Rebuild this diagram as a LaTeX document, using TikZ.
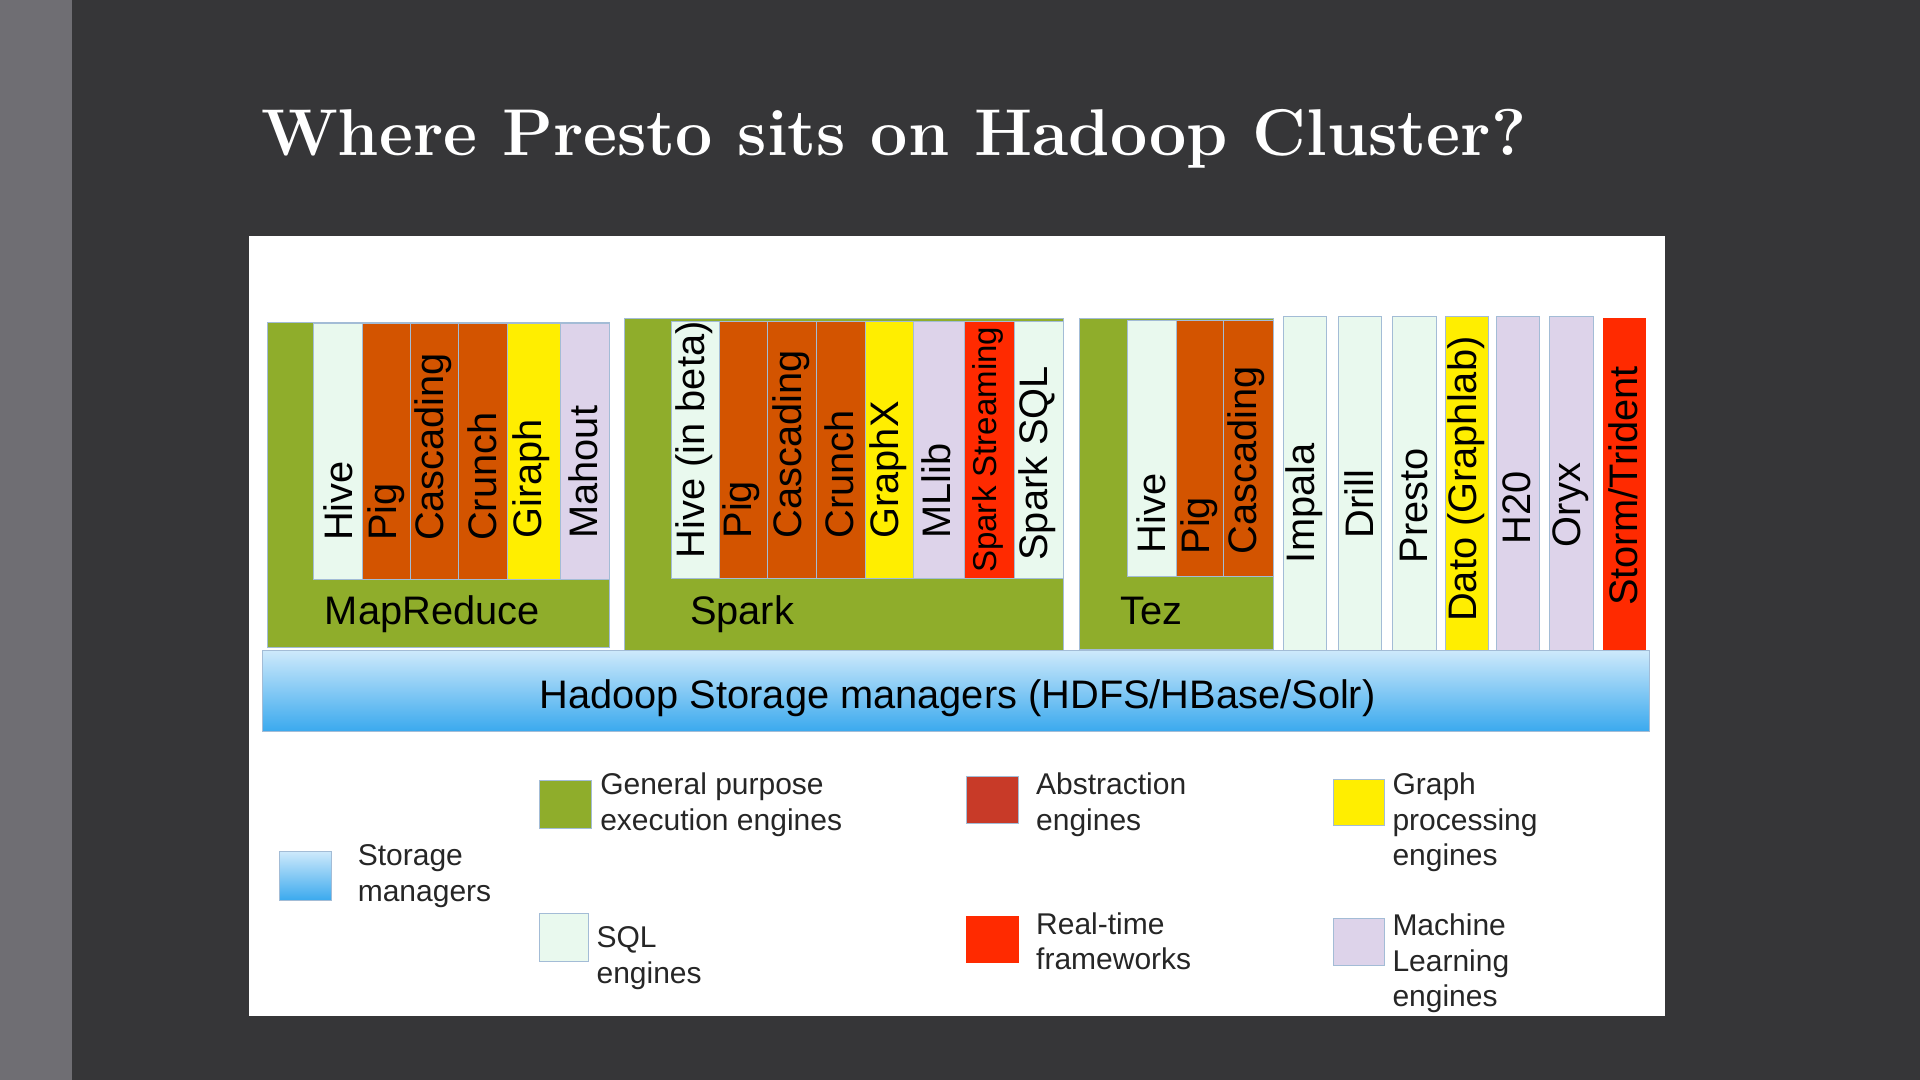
\documentclass[tikz,border=0pt]{standalone}
\usepackage{fontspec}
\usepackage{tikz}
\newfontfamily\arialfont{Liberation Sans}
\newcommand{\lblfont}{\arialfont\fontsize{32.5}{39}\selectfont}
\newcommand{\legfont}{\arialfont\fontsize{24.5}{29}\selectfont}
\newcommand{\titlefont}{\bfseries\fontsize{54}{64}\selectfont}
\definecolor{slidebg}{HTML}{363638}
\definecolor{slidestrip}{HTML}{6F6E73}
\definecolor{gen}{HTML}{8FAD2B}
\definecolor{abst}{HTML}{D35400}
\definecolor{abstkey}{HTML}{C83A28}
\definecolor{graphc}{HTML}{FFEE00}
\definecolor{mlc}{HTML}{DDD3EA}
\definecolor{sqlc}{HTML}{E9F9EE}
\definecolor{rtc}{HTML}{FF2A00}
\definecolor{sttop}{HTML}{CDE9FB}
\definecolor{stbot}{HTML}{3AA9EE}
\definecolor{barline}{HTML}{A3BCD6}

\begin{document}
\begin{tikzpicture}[x=1pt, y=-1pt,
	bar/.style={draw=barline, line width=0.8pt, inner sep=0, anchor=north west},
	vlbl/.style={rotate=90, anchor=west, inner sep=0, font=\lblfont, text=black},
	hlbl/.style={anchor=base, inner sep=0, font=\lblfont, text=black},
	key/.style={draw=barline, line width=0.8pt, inner sep=0, anchor=north west},
	keytext/.style={anchor=base west, inner sep=0, align=left, font=\legfont, text=black!85}]
	\useasboundingbox (0,0) rectangle (1568,882);
	\fill[slidebg] (0,0) rectangle (1568,882);
	\fill[slidestrip] (0,0) rectangle (59,882);
	\fill[white] (203,193) rectangle (1360,830);
	
	\node[anchor=base west, inner sep=0, font=\titlefont, text=white] (title) at (213,127) {Where Presto sits on Hadoop Cluster?};
	
	% MapReduce
	\node[bar, fill=gen, minimum width=279pt, minimum height=265pt] (mr) at (218,263) {};
	\node[bar, fill=sqlc, minimum width=40pt, minimum height=209pt] (mrhive) at (256,264) {};
	\node[bar, fill=abst, minimum width=39pt, minimum height=209pt] (mrpig) at (296,264) {};
	\node[bar, fill=abst, minimum width=39pt, minimum height=209pt] (mrcasc) at (335,264) {};
	\node[bar, fill=abst, minimum width=40pt, minimum height=209pt] (mrcrunch) at (374,264) {};
	\node[bar, fill=graphc, minimum width=43pt, minimum height=209pt] (mrgiraph) at (414,264) {};
	\node[bar, fill=mlc, minimum width=40pt, minimum height=209pt] (mrmahout) at (457,264) {};
	\node[vlbl] (mrhivet) at (276,442) {Hive};
	\node[vlbl] (mrpigt) at (315,442) {Pig};
	\node[vlbl] (mrcasct) at (354,442) {Cascading};
	\node[vlbl] (mrcruncht) at (394,442) {Crunch};
	\node[vlbl] (mrgirapht) at (434,440) {Giraph};
	\node[vlbl] (mrmahoutt) at (476,440) {Mahout};
	\node[hlbl] (mrt) at (353,510) {MapReduce};
	
	% Spark
	\node[bar, fill=gen, minimum width=358pt, minimum height=271pt] (sp) at (510,260) {};
	\node[bar, fill=sqlc, minimum width=39pt, minimum height=210pt] (sphive) at (548,262) {};
	\node[bar, fill=abst, minimum width=39pt, minimum height=210pt] (sppig) at (587,262) {};
	\node[bar, fill=abst, minimum width=40pt, minimum height=210pt] (spcasc) at (626,262) {};
	\node[bar, fill=abst, minimum width=40pt, minimum height=210pt] (spcrunch) at (666,262) {};
	\node[bar, fill=graphc, minimum width=40pt, minimum height=210pt] (spgraphx) at (706,262) {};
	\node[bar, fill=mlc, minimum width=41pt, minimum height=210pt] (spmllib) at (746,262) {};
	\node[bar, fill=rtc, minimum width=41pt, minimum height=210pt] (spstream) at (787,262) {};
	\node[bar, fill=sqlc, minimum width=40pt, minimum height=210pt] (spsql) at (828,262) {};
	\node[vlbl] (sphivet) at (567,456) {Hive (in beta)};
	\node[vlbl] (sppigt) at (605,440) {Pig};
	\node[vlbl] (spcasct) at (646,440) {Cascading};
	\node[vlbl] (spcruncht) at (685,440) {Crunch};
	\node[vlbl] (spgraphxt) at (725,440) {GraphX};
	\node[vlbl] (spmllibt) at (765,440) {MLlib};
	\node[vlbl, font=\arialfont\fontsize{27}{32}\selectfont] (spstreamt) at (807,468) {Spark Streaming};
	\node[vlbl] (spsqlt) at (847,458) {Spark SQL};
	\node[hlbl] (spt) at (606,510) {Spark};
	
	% Tez
	\node[bar, fill=gen, minimum width=159pt, minimum height=270pt] (tz) at (881,260) {};
	\node[bar, fill=sqlc, minimum width=40pt, minimum height=209pt] (tzhive) at (920,261) {};
	\node[bar, fill=abst, minimum width=39pt, minimum height=209pt] (tzpig) at (960,261) {};
	\node[bar, fill=abst, minimum width=41pt, minimum height=209pt] (tzcasc) at (999,261) {};
	\node[vlbl] (tzhivet) at (940,452) {Hive};
	\node[vlbl] (tzpigt) at (979,453) {Pig};
	\node[vlbl] (tzcasct) at (1018,453) {Cascading};
	\node[hlbl] (tzt) at (940,510) {Tez};
	
	% engines on their own
	\node[bar, fill=sqlc, minimum width=35pt, minimum height=273pt] (impala) at (1048,258) {};
	\node[bar, fill=sqlc, minimum width=35pt, minimum height=273pt] (drill) at (1093,258) {};
	\node[bar, fill=sqlc, minimum width=36pt, minimum height=273pt] (presto) at (1137,258) {};
	\node[bar, fill=graphc, minimum width=35pt, minimum height=273pt] (dato) at (1180,258) {};
	\node[bar, fill=mlc, minimum width=35pt, minimum height=273pt] (htwo) at (1222,258) {};
	\node[bar, fill=mlc, minimum width=36pt, minimum height=273pt] (oryx) at (1265,258) {};
	\node[bar, fill=rtc, draw=rtc, minimum width=34pt, minimum height=271pt] (storm) at (1309,260) {};
	\node[vlbl] (impalat) at (1065,460) {Impala};
	\node[vlbl] (drillt) at (1110,440) {Drill};
	\node[vlbl] (prestot) at (1155,460) {Presto};
	\node[vlbl] (datot) at (1197,508) {Dato (Graphlab)};
	\node[vlbl] (htwot) at (1239,445) {H20};
	\node[vlbl] (oryxt) at (1283,447) {Oryx};
	\node[vlbl] (stormt) at (1326,495) {Storm/Trident};
	
	% storage
	\node[bar, top color=sttop, bottom color=stbot, minimum width=1133pt, minimum height=66pt] (hdfs) at (214,531) {};
	\node[hlbl] (hdfst) at (782,579) {Hadoop Storage managers (HDFS/HBase/Solr)};
	
	% legend (base = last line)
	\node[key, top color=sttop, bottom color=stbot, minimum width=42pt, minimum height=40pt] (kstore) at (228,695) {};
	\node[keytext] (kstoret) at (292,736) {Storage\\managers};
	\node[key, fill=gen, minimum width=43pt, minimum height=39pt] (kgen) at (440,637) {};
	\node[keytext] (kgent) at (490,678) {General purpose\\execution engines};
	\node[key, fill=abstkey, minimum width=42pt, minimum height=38pt] (kabs) at (789,634) {};
	\node[keytext] (kabst) at (846,678) {Abstraction\\engines};
	\node[key, fill=graphc, minimum width=41pt, minimum height=38pt] (kgraph) at (1089,636) {};
	\node[keytext] (kgrapht) at (1137,707) {Graph\\processing\\engines};
	\node[key, fill=sqlc, minimum width=40pt, minimum height=39pt] (ksql) at (440,746) {};
	\node[keytext] (ksqlt) at (487,803) {SQL\\engines};
	\node[key, fill=rtc, draw=rtc, minimum width=42pt, minimum height=38pt] (krt) at (789,748) {};
	\node[keytext] (krtt) at (846,792) {Real-time\\frameworks};
	\node[key, fill=mlc, minimum width=41pt, minimum height=38pt] (kml) at (1089,750) {};
	\node[keytext] (kmlt) at (1137,822) {Machine\\Learning\\engines};
\end{tikzpicture}
\end{document}
